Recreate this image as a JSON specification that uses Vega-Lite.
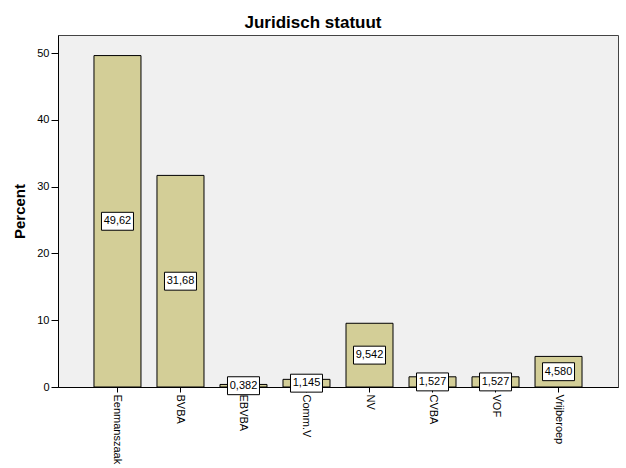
{
  "$schema": "https://vega.github.io/schema/vega-lite/v6.json",
  "width": 560,
  "height": 352,
  "autosize": {"type": "none"},
  "padding": {"left": 58, "top": 35, "right": 8, "bottom": 81},
  "background": "white",
  "title": {"text": "Juridisch statuut", "font": "Liberation Sans", "fontSize": 17, "fontWeight": "bold", "color": "black", "anchor": "middle", "offset": 3, "dx": -25},
  "data": {"values": [
    {"cat": "Eenmanszaak", "pct": 49.62, "label": "49,62"},
    {"cat": "BVBA", "pct": 31.68, "label": "31,68"},
    {"cat": "EBVBA", "pct": 0.382, "label": "0,382"},
    {"cat": "Comm.V", "pct": 1.145, "label": "1,145"},
    {"cat": "NV", "pct": 9.542, "label": "9,542"},
    {"cat": "CVBA", "pct": 1.527, "label": "1,527"},
    {"cat": "VOF", "pct": 1.527, "label": "1,527"},
    {"cat": "Vrijberoep", "pct": 4.58, "label": "4,580"}
  ]},
  "transform": [{"calculate": "datum.pct / 2", "as": "mid"}],
  "encoding": {
    "x": {"field": "cat", "type": "nominal", "sort": null,
      "scale": {"paddingInner": 0.254, "paddingOuter": 0.571},
      "axis": {"title": null, "labelAngle": 90, "labelAlign": "left", "labelBaseline": "middle", "labelFont": "Liberation Sans", "labelFontSize": 11, "labelColor": "black", "tickColor": "black", "tickSize": 5, "labelPadding": 2, "domainColor": "black"}}
  },
  "layer": [
    {
      "mark": {"type": "bar", "fill": "#d3ce97", "stroke": "black", "strokeWidth": 1},
      "encoding": {
        "y": {"field": "pct", "type": "quantitative",
          "scale": {"domain": [0, 52.7], "nice": false},
          "axis": {"title": "Percent", "values": [0, 10, 20, 30, 40, 50], "grid": false, "tickColor": "black", "tickSize": 7, "domainColor": "black", "labelFont": "Liberation Sans", "labelFontSize": 11, "labelColor": "black", "labelPadding": 2, "titleFont": "Liberation Sans", "titleFontSize": 15, "titleFontWeight": "bold", "titleColor": "black", "titlePadding": 9}}
      }
    },
    {
      "mark": {"type": "point", "shape": "M-1,-0.56H1V0.56H-1Z", "size": 1024, "filled": true, "fill": "white", "stroke": "black", "strokeWidth": 1, "opacity": 1},
      "encoding": {"y": {"field": "mid", "type": "quantitative"}}
    },
    {
      "mark": {"type": "text", "font": "Liberation Sans", "fontSize": 11, "color": "black", "baseline": "middle", "align": "center"},
      "encoding": {"y": {"field": "mid", "type": "quantitative"}, "text": {"field": "label"}}
    }
  ],
  "config": {"view": {"fill": "#f0f0f0", "stroke": "#444444", "strokeWidth": 1}}
}
